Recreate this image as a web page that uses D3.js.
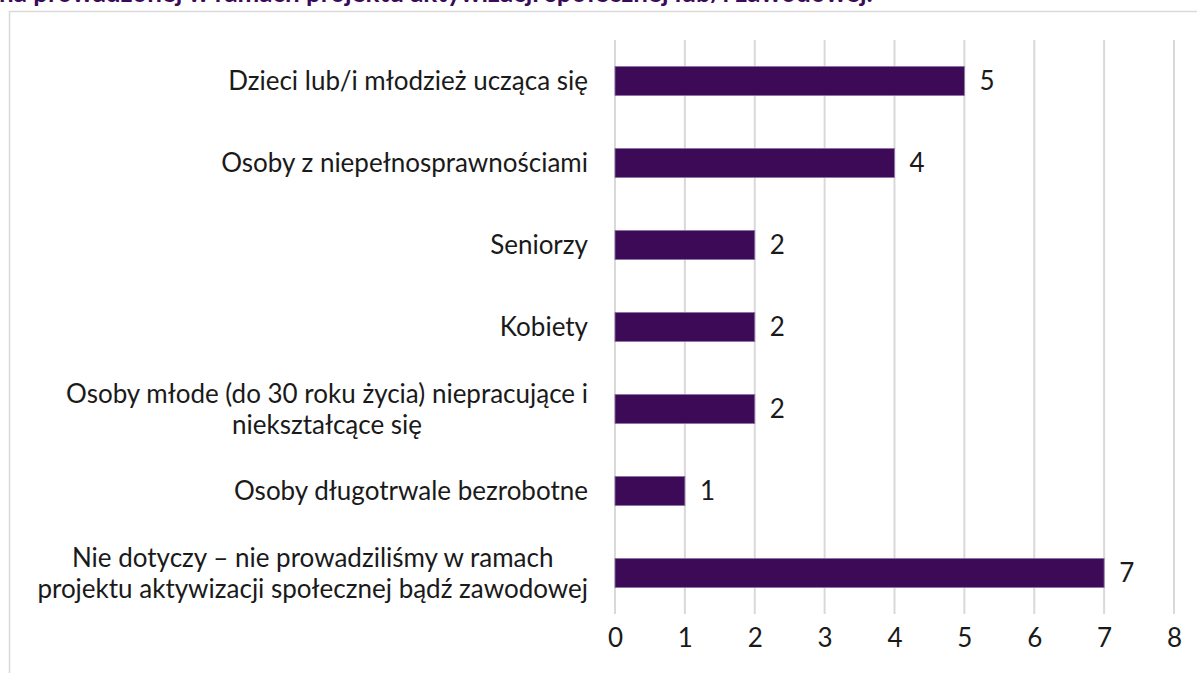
<!DOCTYPE html>
<html>
<head>
<meta charset="utf-8">
<script src="https://cdn.jsdelivr.net/npm/d3@7"></script>
<style>
  html, body { margin: 0; padding: 0; background: #fff; overflow: hidden; }
  svg { display: block; font-family: Lato, "Open Sans", sans-serif; }
</style>
</head>
<body>
<div id="chart"></div>
<script>
let width = 1197;
let height = 673;

// Data
const categories = [
  ["Dzieci lub/i młodzież ucząca się"],
  ["Osoby z niepełnosprawnościami"],
  ["Seniorzy"],
  ["Kobiety"],
  ["Osoby młode (do 30 roku życia) niepracujące i", "niekształcące się"],
  ["Osoby długotrwale bezrobotne"],
  ["Nie dotyczy – nie prowadziliśmy w ramach", "projektu aktywizacji społecznej bądź zawodowej"]
];
const values = [5, 4, 2, 2, 2, 1, 7];
const xTicks = [0, 1, 2, 3, 4, 5, 6, 7, 8];
const titleText = "na prowadzonej w ramach projektu aktywizacji społecznej lub/i zawodowej.";

const barColor = "#3d0a57";
const gridColor = "#d9d9d9";
const textColor = "#1a1a1a";
const fontSize = "26px";

const svg = d3.select("#chart")
  .append("svg")
  .attr("width", width)
  .attr("height", height);

// Title (cut off at the top of the picture)
svg.append("text")
  .attr("x", -1)
  .attr("y", 2)
  .attr("fill", "#3c0a5a")
  .style("font-size", "26px")
  .style("font-weight", "bold")
  .text(titleText);

// Chart frame
svg.append("rect")
  .attr("x", 9.5)
  .attr("y", 11.5)
  .attr("width", width)
  .attr("height", height)
  .attr("fill", "none")
  .attr("stroke", gridColor)
  .attr("stroke-width", 1.5);

// Scales
const x = d3.scaleLinear()
  .domain([0, 8])
  .range([615, 1174]);

const y = d3.scaleBand()
  .domain(d3.range(categories.length))
  .range([40, 614])
  .paddingInner(0.646)
  .paddingOuter(0.323);

// Gridlines
svg.append("g")
  .selectAll("line")
  .data(xTicks)
  .enter()
  .append("line")
  .attr("x1", d => x(d))
  .attr("x2", d => x(d))
  .attr("y1", 40)
  .attr("y2", 614)
  .attr("stroke", gridColor)
  .attr("stroke-width", 2);

// X axis tick labels
svg.append("g")
  .attr("transform", "translate(0, 614)")
  .call(d3.axisBottom(x).tickValues(xTicks).tickSize(0).tickPadding(15).tickFormat(d3.format("d")))
  .call(g => g.select(".domain").remove())
  .selectAll("text")
  .attr("fill", textColor)
  .style("font-family", "Lato, sans-serif")
  .style("font-size", fontSize);

// Bars
svg.selectAll("rect.bar")
  .data(values)
  .enter()
  .append("rect")
  .attr("class", "bar")
  .attr("x", x(0))
  .attr("y", (d, i) => y(i))
  .attr("width", d => x(d) - x(0))
  .attr("height", y.bandwidth())
  .attr("fill", barColor)
  .attr("stroke", "#8e6fa6")
  .attr("stroke-width", 0.8);

// Value labels
svg.selectAll("text.value")
  .data(values)
  .enter()
  .append("text")
  .attr("class", "value")
  .attr("x", d => x(d) + 15)
  .attr("y", (d, i) => y(i) + y.bandwidth() / 2)
  .attr("dy", "0.35em")
  .attr("fill", textColor)
  .style("font-size", fontSize)
  .text(d => d);

// Category labels (lines centred within a right-aligned block)
const labelRight = 588;
const lineHeight = 31;
categories.forEach((lines, i) => {
  const g = svg.append("g");
  const cy = y(i) + y.bandwidth() / 2;
  const texts = lines.map((line, j) => g.append("text")
    .attr("y", cy + (j - (lines.length - 1) / 2) * lineHeight)
    .attr("dy", "0.35em")
    .attr("fill", textColor)
    .attr("text-anchor", "middle")
    .style("font-size", fontSize)
    .text(line));
  const maxW = d3.max(texts, t => t.node().getComputedTextLength());
  texts.forEach(t => t.attr("x", labelRight - maxW / 2));
});
</script>
</body>
</html>
